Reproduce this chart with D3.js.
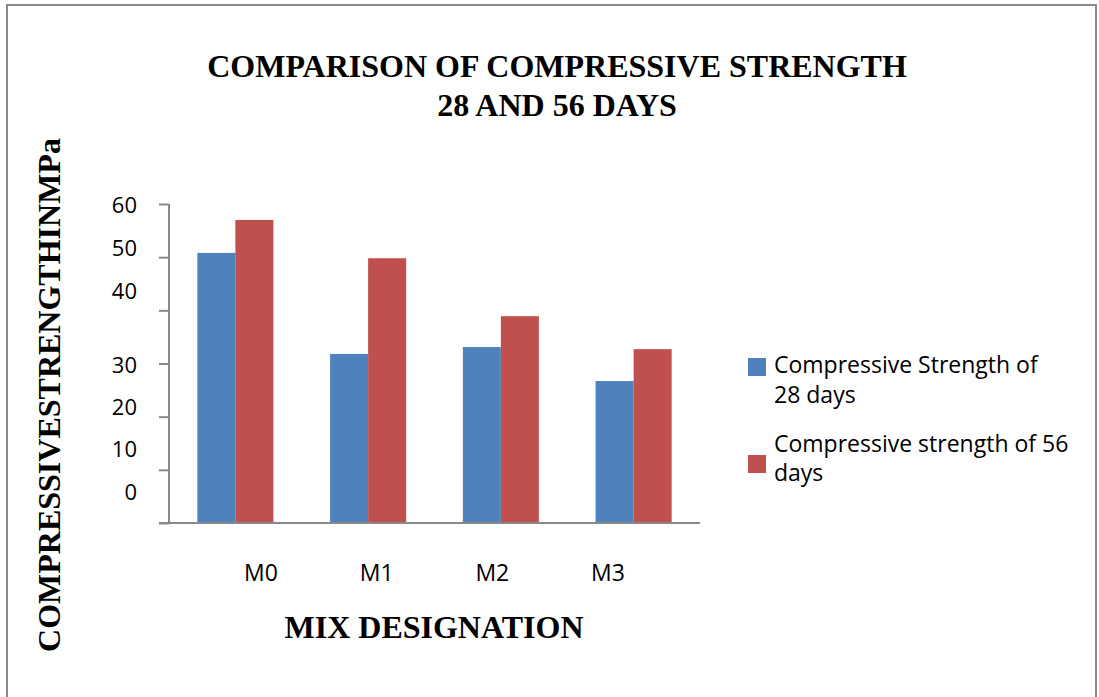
<!DOCTYPE html>
<html>
<head>
<meta charset="utf-8">
<script src="https://cdn.jsdelivr.net/npm/d3@7"></script>
<style>
  html, body { margin: 0; padding: 0; background: #fff; }
  svg { display: block; }
</style>
</head>
<body>
<svg id="chart" width="1099" height="697"></svg>
<script>
const categories = ["M0", "M1", "M2", "M3"];
const seriesNames = ["Compressive Strength of 28 days", "Compressive strength of 56 days"];
const strength28 = [50.8, 31.8, 33.1, 26.7];
const strength56 = [57.0, 49.8, 38.9, 32.7];
const yTickValues = [0, 10, 20, 30, 40, 50, 60];
const yTickLabels = ["0", "10", "20", "30", "40", "50", "60"];
const legendLines = [["Compressive Strength of", "28 days"], ["Compressive strength of 56", "days"]];
const colors = ["#4F81BD", "#C0504D"];

const svg = d3.select("#chart");
const axisColor = "#898989";
const sans = "'Open Sans', sans-serif";
const serif = "'Liberation Serif', 'Times New Roman', serif";

// outer frame
svg.append("rect").attr("x", 7).attr("y", 5).attr("width", 1089).attr("height", 710)
  .attr("fill", "none").attr("stroke", axisColor).attr("stroke-width", 2);

// scales
const y = d3.scaleLinear().domain([0, 60]).range([523, 204]);
const x0 = d3.scaleBand().domain(categories).range([169, 700]).paddingInner(0.427).paddingOuter(0.2135);
const x1 = d3.scaleBand().domain(seriesNames).range([0, x0.bandwidth()]);
// label placement scales (the original chart's labels sit off their ticks)
const yLabelPos = d3.scaleLinear().domain(yTickValues).range([492, 449, 407, 365, 291, 248, 205]);
const xLabelPos = d3.scalePoint().domain(categories).range([261, 608]);

const data = categories.map((c, i) => ({ cat: c, values: [strength28[i], strength56[i]] }));

// bars
const groups = svg.append("g").selectAll("g").data(data).join("g")
  .attr("transform", d => `translate(${x0(d.cat)},0)`);
groups.selectAll("rect").data(d => d.values.map((v, j) => ({ v, j })))
  .join("rect")
  .attr("x", d => x1(seriesNames[d.j]))
  .attr("y", d => y(d.v))
  .attr("width", x1.bandwidth())
  .attr("height", d => y(0) - y(d.v))
  .attr("fill", d => colors[d.j]);

// y axis
const yAxis = svg.append("g").attr("transform", "translate(169,0)")
  .call(d3.axisLeft(y).tickValues(yTickValues).tickSize(10).tickFormat(""));
yAxis.selectAll("path, line").attr("stroke", axisColor).attr("stroke-width", 2);
yAxis.select(".domain").attr("d", `M0,${y(60)}V${y(0)}`);

// x baseline
const xAxis = svg.append("g").attr("transform", `translate(0,${y(0)})`)
  .call(d3.axisBottom(x0).tickSize(0).tickFormat(""));
xAxis.select(".domain").attr("d", "M159,0H700").attr("stroke", axisColor).attr("stroke-width", 2);

// y tick labels
svg.append("g").selectAll("text").data(yTickValues).join("text")
  .attr("x", 137).attr("y", d => yLabelPos(d)).attr("dy", "0.35em")
  .attr("text-anchor", "end").attr("font-family", sans).attr("font-size", 22)
  .attr("fill", "#000").text((d, i) => yTickLabels[i]);

// x category labels
svg.append("g").selectAll("text").data(categories).join("text")
  .attr("x", d => xLabelPos(d)).attr("y", 573).attr("dy", "0.35em")
  .attr("text-anchor", "middle").attr("font-family", sans).attr("font-size", 23)
  .attr("fill", "#000").text(d => d);

// title
const title = svg.append("text").attr("text-anchor", "middle")
  .attr("font-family", serif).attr("font-weight", "bold").attr("font-size", 32).attr("fill", "#000");
title.append("tspan").attr("x", 557).attr("y", 77).text("COMPARISON OF COMPRESSIVE STRENGTH");
title.append("tspan").attr("x", 557).attr("y", 116).text("28 AND 56 DAYS");

// axis titles
svg.append("text").attr("x", 434).attr("y", 638).attr("text-anchor", "middle")
  .attr("font-family", serif).attr("font-weight", "bold").attr("font-size", 32)
  .attr("fill", "#000").text("MIX DESIGNATION");
svg.append("text").attr("transform", "translate(60,395) rotate(-90)").attr("text-anchor", "middle")
  .attr("font-family", serif).attr("font-weight", "bold").attr("font-size", 32)
  .attr("fill", "#000").text("COMPRESSIVESTRENGTHINMPa");

// legend
const legendSquareY = [358, 455];
const legendTextY = [[373, 403], [452, 481]];
const legend = svg.append("g");
seriesNames.forEach((s, i) => {
  legend.append("rect").attr("x", 748).attr("y", legendSquareY[i]).attr("width", 18).attr("height", 18)
    .attr("fill", colors[i]);
  const t = legend.append("text").attr("font-family", sans).attr("font-size", 23).attr("fill", "#000");
  legendLines[i].forEach((line, k) => {
    t.append("tspan").attr("x", 774).attr("y", legendTextY[i][k]).text(line);
  });
});
</script>
</body>
</html>
